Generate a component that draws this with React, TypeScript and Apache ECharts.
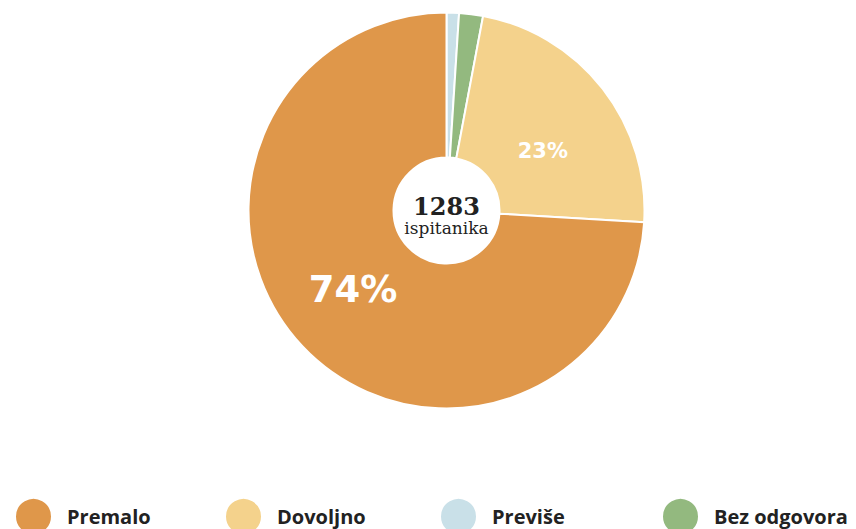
import React, { useEffect, useRef } from "react";
import * as echarts from "echarts";

const categories = ["Previše", "Bez odgovora", "Dovoljno", "Premalo"];
const counts = [13, 25, 295, 950];
const colors = ["#C9E0E8", "#93B97F", "#F4D28C", "#DF974A"];
const showLabel = [false, false, true, true];
const labelSizes = [0, 0, 21, 37];
const labelLineHeights = [0, 0, 40, 18];
const labelBefore = ["", "", "\n", ""];
const labelAfter = ["", "", "", "\n"];
const labelPads = [
  [0, 0, 0, 0],
  [0, 0, 0, 0],
  [0, 10, 0, 0],
  [0, 0, 0, 0],
];
const legendOrder = ["Premalo", "Dovoljno", "Previše", "Bez odgovora"];
const legendLefts = [9, 219, 434, 656];
const totalLabel = "1283";
const totalSub = "ispitanika";

export default function App() {
  const ref = useRef<HTMLDivElement>(null);
  useEffect(() => {
    document.body.style.margin = "0";
    if (!ref.current) return;
    const chart = echarts.init(ref.current, null, { renderer: "svg" });
    const data = categories.map((name, i) => ({
      name,
      value: counts[i],
      itemStyle: { color: colors[i] },
      label: {
        show: showLabel[i],
        fontSize: labelSizes[i],
        lineHeight: labelLineHeights[i] || undefined,
        padding: labelPads[i],
        formatter: (p: any) =>
          labelBefore[i] + Math.round(p.percent) + "%" + labelAfter[i],
      },
    }));
    chart.setOption({
      animation: false,
      backgroundColor: "#ffffff",
      legend: legendOrder.map((name, i) => ({
        data: [name],
        left: legendLefts[i],
        top: 492,
        orient: "horizontal",
        icon: "circle",
        itemWidth: 37,
        itemHeight: 37,
        selectedMode: false,
        textStyle: {
          fontFamily: "Open Sans",
          fontWeight: "bold",
          fontSize: 20,
          color: "#222222",
          padding: [2, 0, 0, 10],
        },
      })),
      graphic: [
        {
          type: "text",
          x: 446.5,
          y: 206,
          style: {
            text: totalLabel,
            fontFamily: "DejaVu Serif",
            fontWeight: "bold",
            fontSize: 24,
            fill: "#222222",
            textAlign: "center",
            textVerticalAlign: "middle",
          },
        },
        {
          type: "text",
          x: 446.5,
          y: 228,
          style: {
            text: totalSub,
            fontFamily: "DejaVu Serif",
            fontSize: 17,
            fill: "#222222",
            textAlign: "center",
            textVerticalAlign: "middle",
          },
        },
      ],
      series: [
        {
          type: "pie",
          center: [446.5, 210.5],
          radius: [53, 198],
          startAngle: 90,
          clockwise: true,
          avoidLabelOverlap: false,
          itemStyle: { borderColor: "#ffffff", borderWidth: 2 },
          label: {
            position: "inside",
            color: "#ffffff",
            fontFamily: "DejaVu Sans",
            fontWeight: "bold",
          },
          labelLine: { show: false },
          emphasis: { disabled: true },
          data,
        },
      ],
    });
    return () => chart.dispose();
  }, []);
  return <div ref={ref} style={{ width: 856, height: 529 }} />;
}
